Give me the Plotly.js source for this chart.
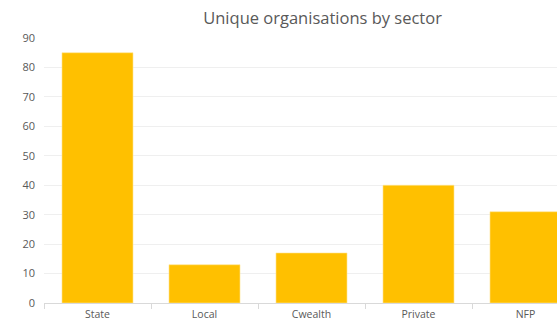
<!DOCTYPE html>
<html>
<head>
<meta charset="utf-8">
<script src="https://cdn.plot.ly/plotly-3.0.1.min.js"></script>
<style>
html,body{margin:0;padding:0;overflow:hidden;background:#fff;width:557px;height:321px;}
#chart{width:580px;height:321px;}
</style>
</head>
<body>
<div id="chart"></div>
<script>
const categories = ["State", "Local", "Cwealth", "Private", "NFP"];
const values = [85, 13, 17, 40, 31];
const yTicks = [0, 10, 20, 30, 40, 50, 60, 70, 80, 90];
const chartTitle = "Unique organisations by sector";

const trace = {
  type: "bar",
  x: categories,
  y: values,
  marker: {color: "#FFC000", line: {color: "#FFE699", width: 0.6}},
  hoverinfo: "x+y"
};

const layout = {
  width: 580,
  height: 321,
  margin: {l: 44, r: 1, t: 38, b: 18, pad: 0},
  paper_bgcolor: "#ffffff",
  plot_bgcolor: "#ffffff",
  font: {family: "Open Sans, Noto Sans, sans-serif", color: "#595959", size: 11},
  title: {
    text: chartTitle,
    x: 302 / 580,
    xanchor: "center",
    xref: "paper",
    y: 1 - 18 / 321,
    yanchor: "middle",
    yref: "container",
    font: {family: "Open Sans, Noto Sans, sans-serif", size: 16.5, color: "#595959"}
  },
  bargap: 0.336,
  showlegend: false,
  xaxis: {
    type: "category",
    showgrid: false,
    showline: true,
    linecolor: "#d9d9d9",
    linewidth: 1,
    ticks: "outside",
    tickson: "boundaries",
    ticklen: 5,
    tickcolor: "#d9d9d9",
    ticklabelstandoff: 1,
    tickfont: {size: 10.5, color: "#595959"},
    zeroline: false,
    fixedrange: true
  },
  yaxis: {
    range: [0, 90],
    tickvals: yTicks,
    showgrid: true,
    gridcolor: "#efefef",
    gridwidth: 1,
    zeroline: false,
    showline: false,
    ticks: "",
    ticklabelstandoff: 8,
    tickfont: {size: 11, color: "#595959"},
    fixedrange: true
  }
};

Plotly.newPlot("chart", [trace], layout, {displayModeBar: false, staticPlot: true});
</script>
</body>
</html>
